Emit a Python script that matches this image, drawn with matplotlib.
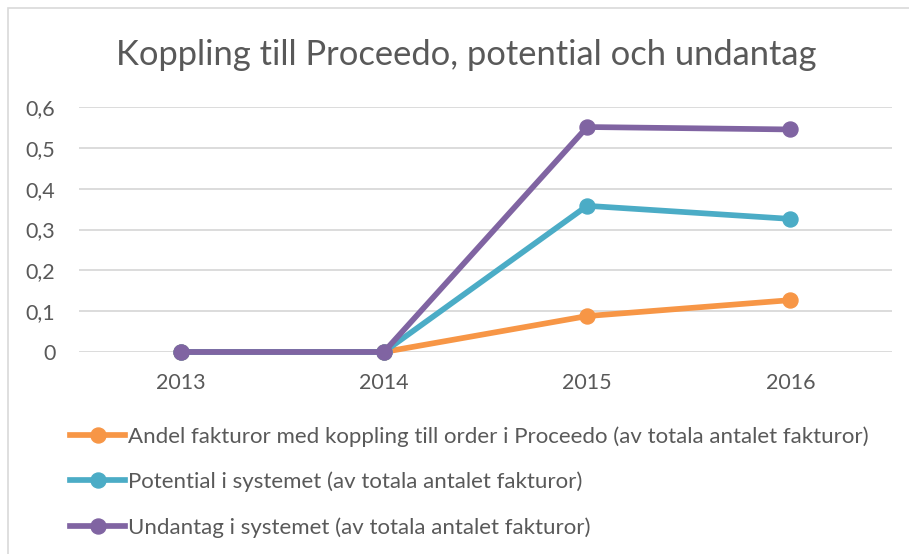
import matplotlib.pyplot as plt
from matplotlib.lines import Line2D
from matplotlib.patches import Rectangle

years = ["2013", "2014", "2015", "2016"]
andel = [0, 0, 0.088, 0.127]
potential = [0, 0, 0.358, 0.326]
undantag = [0, 0, 0.551, 0.545]

labels = [
    "Andel fakturor med koppling till order i Proceedo (av totala antalet fakturor)",
    "Potential i systemet (av totala antalet fakturor)",
    "Undantag i systemet (av totala antalet fakturor)",
]
colors = ["#F79646", "#4BACC6", "#8064A2"]
yticks = [0, 0.1, 0.2, 0.3, 0.4, 0.5, 0.6]
ytick_labels = ["0", "0,1", "0,2", "0,3", "0,4", "0,5", "0,6"]

plt.rcParams['font.family'] = ['Lato', 'DejaVu Sans']
text_col = '#595959'
grid_col = '#D9D9D9'

W, H = 909, 554
fig = plt.figure(figsize=(W / 100, H / 100), dpi=100)
fig.patches.append(Rectangle((8 / W, -0.1), 1.2, 1 - 8 / H + 0.1, transform=fig.transFigure,
                             facecolor='none', edgecolor=grid_col, linewidth=1.2, zorder=-1))

ax = fig.add_axes([79 / W, 1 - 352 / H, (892 - 79) / W, (352 - 107) / H])
ax.set_facecolor('none')
x = range(len(years))
for vals, c in zip([andel, potential, undantag], colors):
    ax.plot(x, vals, color=c, linewidth=4.1, marker='o', markersize=10.8,
            solid_capstyle='round', zorder=3, clip_on=False)

ax.set_xlim(-0.5, len(years) - 0.5)
ax.set_ylim(0, 0.6)
ax.set_xticks(list(x))
ax.set_xticklabels(years)
ax.set_yticks(yticks)
ax.set_yticklabels(ytick_labels)
ax.tick_params(length=0, labelsize=15.5, colors=text_col)
ax.tick_params(axis='y', pad=17)
ax.tick_params(axis='x', pad=15)
ax.grid(axis='y', color=grid_col, linewidth=1.3)
ax.set_axisbelow(True)
for s in ax.spines.values():
    s.set_visible(False)

fig.text(466 / W, 1 - 55 / H, "Koppling till Proceedo, potential och undantag",
         ha='center', va='center', fontsize=24.8, color=text_col)

handles = [Line2D([], [], color=c, linewidth=4.1, marker='o', markersize=10.8) for c in colors]
leg = fig.legend(handles, labels, loc='upper left', bbox_to_anchor=(70 / W, 1 - 426 / H),
                 frameon=False, fontsize=16, handlelength=2.48, handletextpad=0.14,
                 labelspacing=1.12, borderpad=0, borderaxespad=0)
for t in leg.get_texts():
    t.set_color(text_col)

fig.savefig('out.png', dpi=100)
